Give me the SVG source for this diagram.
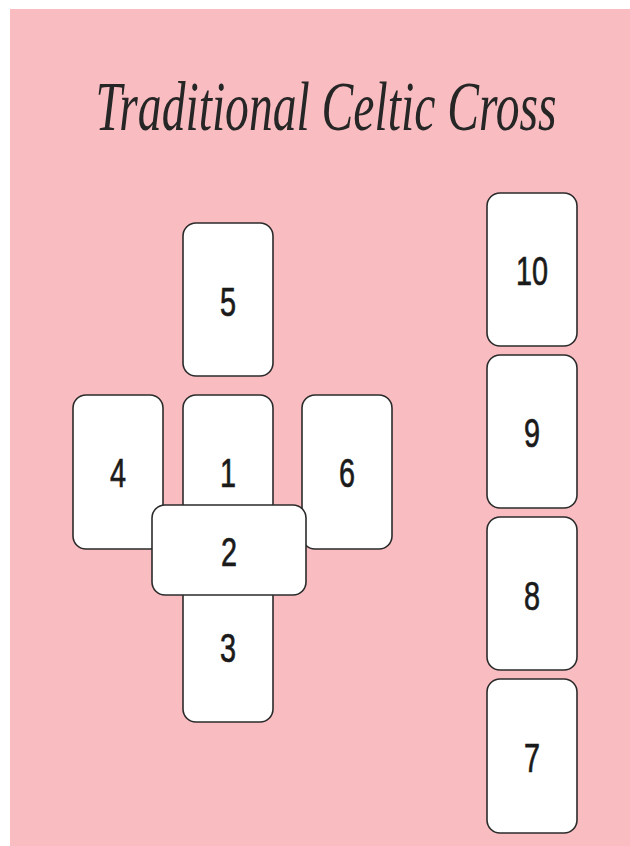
<svg xmlns="http://www.w3.org/2000/svg" width="630" height="846" viewBox="0 0 630 846">
<style>
.card{fill:#ffffff;stroke:#2b2b2b;stroke-width:1.6}
.num{font-family:"Liberation Sans","DejaVu Sans",sans-serif;font-size:40px;fill:#1a1a1a;stroke:#1a1a1a;stroke-width:0.7;text-anchor:middle}
.title{font-family:"Liberation Serif","DejaVu Serif",serif;font-style:italic;font-size:70px;fill:#262626;text-anchor:middle}
</style>
<rect x="0" y="0" width="630" height="846" fill="#ffffff"/>
<rect x="10" y="9" width="620" height="837" fill="#f9bdc1"/>
<text class="title" transform="translate(326,130) scale(0.68,1)">Traditional Celtic Cross</text>
<g id="card5"><rect class="card" x="183" y="223" width="90" height="153" rx="13"/><text class="num" transform="translate(228,316) scale(0.72,1)">5</text></g>
<g id="card4"><rect class="card" x="73" y="395" width="90" height="154" rx="13"/><text class="num" transform="translate(118,487) scale(0.72,1)">4</text></g>
<g id="card6"><rect class="card" x="302" y="395" width="90" height="154" rx="13"/><text class="num" transform="translate(347,487) scale(0.72,1)">6</text></g>
<g id="card1"><rect class="card" x="183" y="395" width="90" height="154" rx="13"/><text class="num" transform="translate(228,487) scale(0.72,1)">1</text></g>
<g id="card3"><rect class="card" x="183" y="568" width="90" height="154" rx="13"/><text class="num" transform="translate(228,662) scale(0.72,1)">3</text></g>
<g id="card2"><rect class="card" x="152" y="505" width="154" height="90" rx="13"/><text class="num" transform="translate(229,566) scale(0.72,1)">2</text></g>
<g id="card10"><rect class="card" x="487" y="193" width="90" height="153" rx="13"/><text class="num" transform="translate(532,285) scale(0.72,1)">10</text></g>
<g id="card9"><rect class="card" x="487" y="355" width="90" height="153" rx="13"/><text class="num" transform="translate(532,447) scale(0.72,1)">9</text></g>
<g id="card8"><rect class="card" x="487" y="517" width="90" height="153" rx="13"/><text class="num" transform="translate(532,610) scale(0.72,1)">8</text></g>
<g id="card7"><rect class="card" x="487" y="679" width="90" height="154" rx="13"/><text class="num" transform="translate(532,772) scale(0.72,1)">7</text></g>
<g id="connectors"/>
</svg>
